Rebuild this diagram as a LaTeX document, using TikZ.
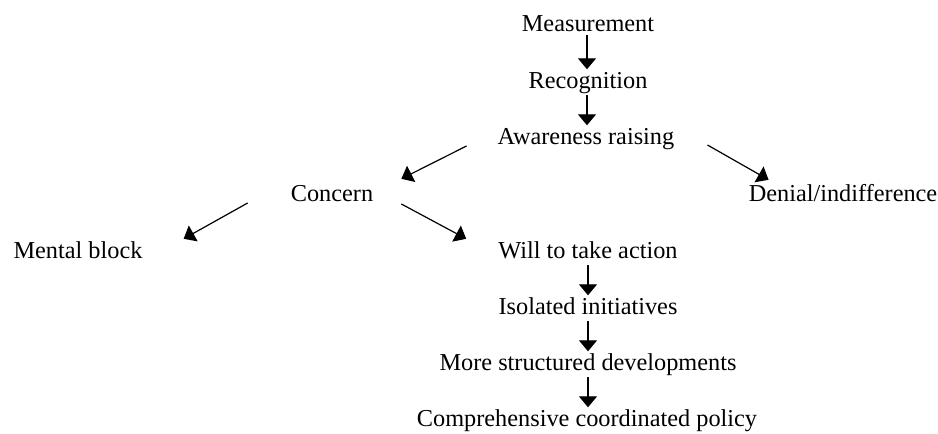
\documentclass[tikz,border=0pt]{standalone}
\usepackage{fontspec}
\setmainfont{Liberation Serif}
\usetikzlibrary{arrows.meta}
\begin{document}
\begin{tikzpicture}[x=1pt,y=-1pt,
  lbl/.style={anchor=base,inner sep=0pt,text height=17pt,text depth=5pt,
    font=\fontsize{24.3}{29}\selectfont},
  arr/.style={draw,line width=1.2pt,-{Triangle[length=11pt,width=18pt]}},
  varr/.style={arr,shorten >=1.5pt,shorten <=2pt}]
\useasboundingbox (0,0) rectangle (938,434);
\node[lbl] (meas) at (588,31) {Measurement};
\node[lbl] (rec) at (588,88) {Recognition};
\node[lbl] (aware) at (586,144) {Awareness raising};
\node[lbl] (concern) at (332,201) {Concern};
\node[lbl] (denial) at (843,201) {Denial/indifference};
\node[lbl] (mental) at (78,258) {Mental block};
\node[lbl] (will) at (588,258) {Will to take action};
\node[lbl] (iso) at (588,314) {Isolated initiatives};
\node[lbl] (more) at (588,370) {More structured developments};
\node[lbl] (comp) at (587,426) {Comprehensive coordinated policy};
\draw[varr,shorten <=-1pt] ([xshift=-1pt]meas.south) -- ([xshift=-1pt]rec.north);
\draw[varr] ([xshift=-1pt]rec.south) -- ([xshift=1pt]aware.north);
\draw[varr] (will.south) -- (iso.north);
\draw[varr] (iso.south) -- (more.north);
\draw[varr] (more.south) -- ([xshift=1pt]comp.north);
\draw[arr] ([xshift=-31pt,yshift=-2pt]aware.base west) -- ([xshift=28pt,yshift=5pt]concern.north east);
\draw[arr] ([xshift=33pt,yshift=-1pt]aware.base east) -- ([xshift=20pt,yshift=4pt]denial.north west);
\draw[arr] ([xshift=-43pt,yshift=-2pt]concern.base west) -- ([xshift=41pt,yshift=2pt]mental.north east);
\draw[arr] ([xshift=28pt,yshift=-3pt]concern.base east) -- ([xshift=-32pt,yshift=2pt]will.north west);
\end{tikzpicture}
\end{document}
